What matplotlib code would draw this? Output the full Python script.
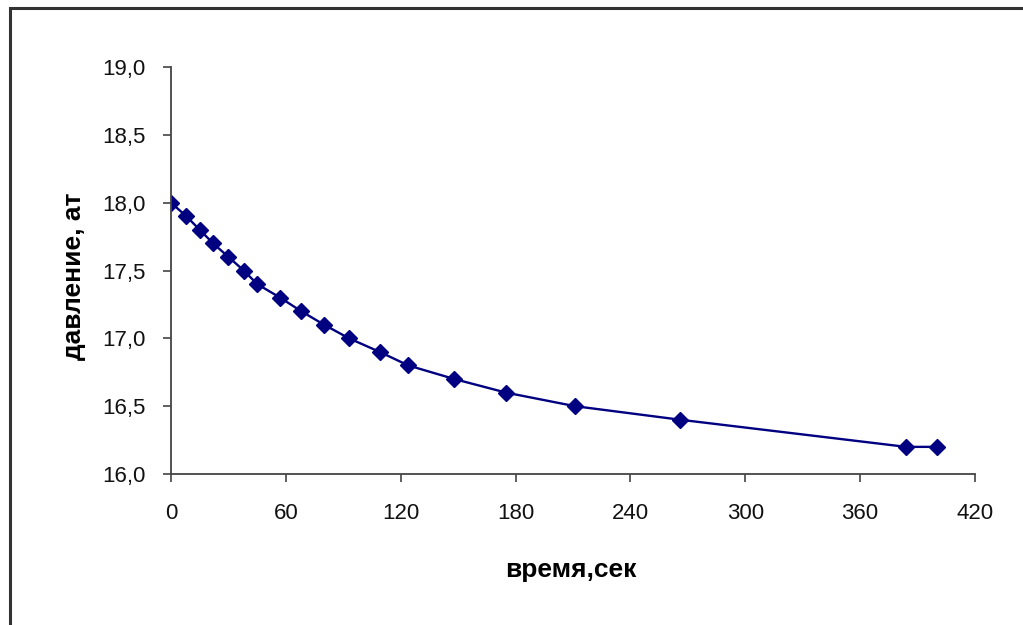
import numpy as np
import matplotlib
matplotlib.use('Agg')
import matplotlib.pyplot as plt
from matplotlib.ticker import FuncFormatter
from matplotlib.patches import Rectangle

# time, sec and pressure, at
time_s = [0, 8, 15, 22, 30, 38, 45, 57, 68, 80, 93, 109, 124, 148, 175, 211, 266, 384, 400]
pressure = [18.0, 17.9, 17.8, 17.7, 17.6, 17.5, 17.4, 17.3, 17.2, 17.1, 17.0, 16.9,
            16.8, 16.7, 16.6, 16.5, 16.4, 16.2, 16.2]

x_ticks = [0, 60, 120, 180, 240, 300, 360, 420]
y_ticks = [16.0, 16.5, 17.0, 17.5, 18.0, 18.5, 19.0]

plt.rcParams['font.family'] = ['Liberation Sans', 'DejaVu Sans']

W, H = 1023, 625
fig = plt.figure(figsize=(W / 100, H / 100), dpi=100)
ax = fig.add_axes([171 / W, 1 - 474 / H, (975 - 171) / W, (474 - 67) / H])

# outer chart frame (bottom/right cut off in the original)
fig.patches.append(Rectangle((10 / W, -0.05), 1.1, 1 - 8 / H + 0.05,
                             transform=fig.transFigure, fill=False,
                             edgecolor='#333333', linewidth=2.2))

ax.plot(time_s, pressure, color='#000080', linewidth=1.7, marker='D',
        markersize=8.5, markerfacecolor='#000080', markeredgecolor='#000080')

ax.set_xlim(0, 420)
ax.set_ylim(16.0, 19.0)
ax.set_xticks(x_ticks)
ax.set_yticks(y_ticks)
ax.yaxis.set_major_formatter(FuncFormatter(lambda v, p: f'{v:.1f}'.replace('.', ',')))

for s in ['top', 'right']:
    ax.spines[s].set_visible(False)
for s in ['left', 'bottom']:
    ax.spines[s].set_color('#444444')
    ax.spines[s].set_linewidth(1.3)
ax.tick_params(direction='out', length=6, width=1.2, color='#444444',
               labelsize=16, labelcolor='#111111')
ax.tick_params(axis='x', pad=15)
ax.tick_params(axis='y', pad=12)

ax.set_xlabel('время,сек', fontsize=19, fontweight='bold', va='center')
ax.set_ylabel('давление, ат', fontsize=19, fontweight='bold', va='center')
ax.xaxis.set_label_coords(0.4975, -0.236)
ax.yaxis.set_label_coords((74 - 171) / 804, 0.486)

fig.savefig('out.png', dpi=100)
